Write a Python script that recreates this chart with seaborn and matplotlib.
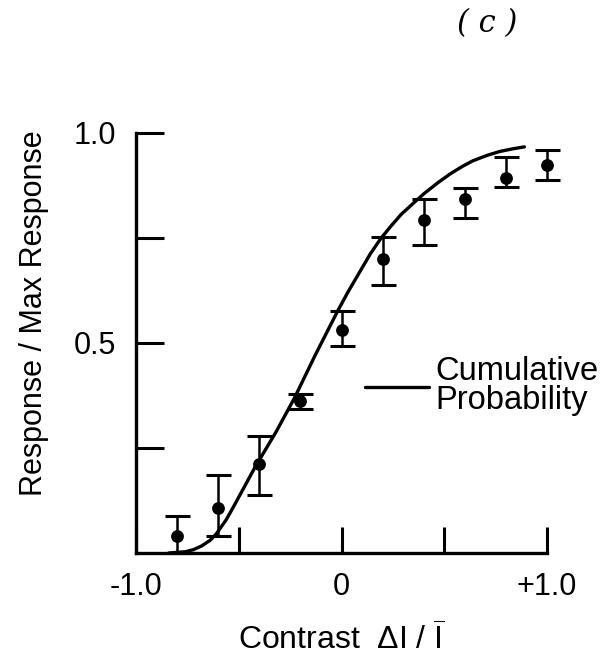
import numpy as np
import pandas as pd
import matplotlib
matplotlib.use("Agg")
import matplotlib.pyplot as plt
import seaborn as sns
from matplotlib.lines import Line2D

# ---- data ----
contrast = [-0.8, -0.6, -0.4, -0.2, 0.0, 0.2, 0.4, 0.6, 0.8, 1.0]
response = [0.040, 0.108, 0.211, 0.362, 0.532, 0.700, 0.792, 0.842, 0.892, 0.924]
err_low = [0.040, 0.068, 0.073, 0.020, 0.040, 0.063, 0.058, 0.045, 0.020, 0.036]
err_high = [0.048, 0.078, 0.067, 0.016, 0.044, 0.052, 0.051, 0.027, 0.050, 0.036]

curve_x = [-0.84, -0.76, -0.72, -0.68, -0.64, -0.61, -0.56, -0.52, -0.47, -0.42,
           -0.32, -0.23, -0.13, -0.02, 0.03, 0.08, 0.14, 0.19, 0.24, 0.29,
           0.35, 0.40, 0.47, 0.53, 0.59, 0.64, 0.71, 0.77, 0.83, 0.89]
curve_y = [0.000, 0.003, 0.008, 0.017, 0.030, 0.045, 0.080, 0.115, 0.160, 0.205,
           0.287, 0.368, 0.469, 0.575, 0.620, 0.662, 0.712, 0.748, 0.778, 0.806,
           0.833, 0.855, 0.882, 0.903, 0.921, 0.934, 0.947, 0.956, 0.962, 0.967]

x_major = [-1.0, 0.0, 1.0]
x_major_labels = ["-1.0", "0", "+1.0"]
x_minor = [-0.5, 0.5]
y_major = [0.5, 1.0]
y_major_labels = ["0.5", "1.0"]
y_minor = [0.25, 0.75]

legend_label = "Cumulative\nProbability"
x_label = "Contrast  ΔI / $\\overline{\\mathrm{I}}$"
y_label = "Response / Max Response"
panel_label = "( c )"

# ---- style ----
sns.set_theme(style="ticks")
plt.rcParams["font.family"] = ["Liberation Sans", "DejaVu Sans"]
plt.rcParams["mathtext.fontset"] = "custom"
plt.rcParams["mathtext.rm"] = "Liberation Sans"
plt.rcParams["mathtext.it"] = "Liberation Sans:italic"

W, H = 615, 668
fig = plt.figure(figsize=(W / 100, H / 100), dpi=100)
ax = fig.add_axes([136 / W, 1 - 553 / H, (547 - 136) / W, (553 - 133) / H])

curve_df = pd.DataFrame({"x": curve_x, "y": curve_y})
pts_df = pd.DataFrame({"x": contrast, "y": response})

sns.lineplot(data=curve_df, x="x", y="y", ax=ax, color="black", lw=2.4,
             sort=False, zorder=3, clip_on=False, solid_joinstyle="round",
             solid_capstyle="round")
ax.errorbar(contrast, response, yerr=[err_low, err_high], fmt="none",
            ecolor="black", elinewidth=1.8, capsize=9, capthick=2.2,
            zorder=4, clip_on=False)
sns.scatterplot(data=pts_df, x="x", y="y", ax=ax, color="black", s=85,
                edgecolor="black", linewidth=0, zorder=5, clip_on=False)

ax.set_xlim(-1.0, 1.0)
ax.set_ylim(0.0, 1.0)
sns.despine(ax=ax)
for s in ["left", "bottom"]:
    ax.spines[s].set_linewidth(2.4)
    ax.spines[s].set_color("black")

ax.set_xticks(x_major)
ax.set_xticklabels(x_major_labels)
ax.set_xticks(x_minor, minor=True)
ax.set_yticks(y_major)
ax.set_yticklabels(y_major_labels)
ax.set_yticks(y_minor, minor=True)

ax.tick_params(axis="x", which="both", direction="in", length=19, width=2.2,
               color="black", labelsize=22, pad=14, labelcolor="black")
ax.tick_params(axis="y", which="both", direction="in", length=20, width=2.2,
               color="black", labelsize=22, pad=14, labelcolor="black")
ax.tick_params(which="minor", labelleft=False, labelbottom=False)

ax.set_xlabel(x_label, fontsize=23, color="black", va="center")
ax.xaxis.set_label_coords(0.5, (553 - 640) / 420)
ax.set_ylabel(y_label, fontsize=22, color="black", va="center")
ax.yaxis.set_label_coords((34 - 136) / 411, (553 - 313) / 420)

handle = Line2D([], [], color="black", lw=2.4)
leg = ax.legend([handle], [legend_label], loc="center left",
                bbox_to_anchor=(365 / W, 1 - 386 / H),
                bbox_transform=fig.transFigure, frameon=False,
                fontsize=23.5, handlelength=1.95, handletextpad=0.22,
                borderpad=0, borderaxespad=0)
for t in leg.get_texts():
    t.set_linespacing(0.92)
    t.set_color("black")

fig.text(487 / W, 1 - 24 / H, panel_label, fontsize=22, style="italic",
         ha="center", va="center", color="black", family=["DejaVu Serif"])

ax.set_facecolor("white")
fig.patch.set_facecolor("white")
fig.savefig("out.png", dpi=100)
